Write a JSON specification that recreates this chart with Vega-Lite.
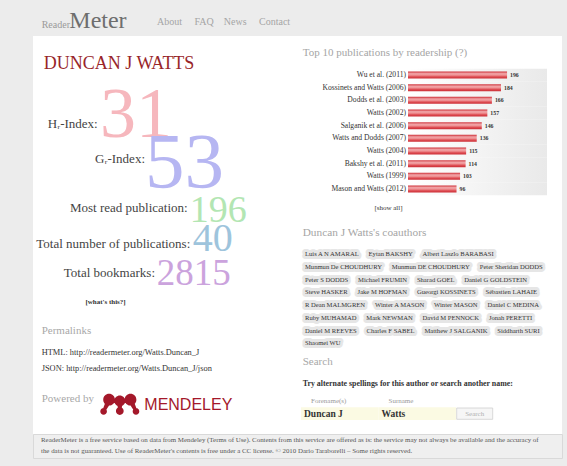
{
  "$schema": "https://vega.github.io/schema/vega-lite/v6.json",
  "background": "#ececec",
  "padding": {"left": 32, "top": 0, "right": 6, "bottom": 8},
  "spacing": 0,
  "bounds": "flush",
  "config": {"view": {"stroke": null}, "text": {"font": "Liberation Serif"}, "concat": {"spacing": 0}},
  "datasets": {
    "pubs": [
      {"pub": "Wu et al. (2011)", "readers": 196},
      {"pub": "Kossinets and Watts (2006)", "readers": 184},
      {"pub": "Dodds et al. (2003)", "readers": 166},
      {"pub": "Watts (2002)", "readers": 157},
      {"pub": "Salganik et al. (2006)", "readers": 146},
      {"pub": "Watts and Dodds (2007)", "readers": 136},
      {"pub": "Watts (2004)", "readers": 115},
      {"pub": "Bakshy et al. (2011)", "readers": 114},
      {"pub": "Watts (1999)", "readers": 103},
      {"pub": "Mason and Watts (2012)", "readers": 96}
    ],
    "metrics": [
      {"metric": "H\u1d63-Index:", "value": 31},
      {"metric": "G\u1d63-Index:", "value": 53},
      {"metric": "Most read publication:", "value": 196},
      {"metric": "Total number of publications:", "value": 40},
      {"metric": "Total bookmarks:", "value": 2815}
    ],
    "coauthors": [
      {"t": "Luis A N AMARAL\u00a0\u00a0\u00a0\u00a0\u00a0\u00a0Eytan BAKSHY\u00a0\u00a0\u00a0\u00a0\u00a0\u00a0Albert Laszlo BARABASI"},
      {"t": "Munmun De CHOUDHURY\u00a0\u00a0\u00a0\u00a0\u00a0\u00a0Munmun DE CHOUDHURY\u00a0\u00a0\u00a0\u00a0\u00a0\u00a0Peter Sheridan DODDS"},
      {"t": "Peter S DODDS\u00a0\u00a0\u00a0\u00a0\u00a0\u00a0Michael FRUMIN\u00a0\u00a0\u00a0\u00a0\u00a0\u00a0Sharad GOEL\u00a0\u00a0\u00a0\u00a0\u00a0\u00a0Daniel G GOLDSTEIN"},
      {"t": "Steve HASKER\u00a0\u00a0\u00a0\u00a0\u00a0\u00a0Jake M HOFMAN\u00a0\u00a0\u00a0\u00a0\u00a0\u00a0Gueorgi KOSSINETS\u00a0\u00a0\u00a0\u00a0\u00a0\u00a0Sébastien LAHAIE"},
      {"t": "R Dean MALMGREN\u00a0\u00a0\u00a0\u00a0\u00a0\u00a0Winter A MASON\u00a0\u00a0\u00a0\u00a0\u00a0\u00a0Winter MASON\u00a0\u00a0\u00a0\u00a0\u00a0\u00a0Daniel C MEDINA"},
      {"t": "Ruby MUHAMAD\u00a0\u00a0\u00a0\u00a0\u00a0\u00a0Mark NEWMAN\u00a0\u00a0\u00a0\u00a0\u00a0\u00a0David M PENNOCK\u00a0\u00a0\u00a0\u00a0\u00a0\u00a0Jonah PERETTI"},
      {"t": "Daniel M REEVES\u00a0\u00a0\u00a0\u00a0\u00a0\u00a0Charles F SABEL\u00a0\u00a0\u00a0\u00a0\u00a0\u00a0Matthew J SALGANIK\u00a0\u00a0\u00a0\u00a0\u00a0\u00a0Siddharth SURI"},
      {"t": "Shaomei WU"}
    ]
  },
  "vconcat": [
    {
      "width": 529, "height": 36,
      "view": {"stroke": null},
      "resolve": {"scale": {"x": "independent", "y": "independent"}},
      "layer": [
        {"data": {"values": [{"t": "Reader"}]},
         "mark": {"type": "text", "align": "left", "baseline": "alphabetic", "fontSize": 10, "color": "#9a9a9a"},
         "encoding": {"text": {"field": "t"},
           "x": {"field": "t", "type": "nominal", "scale": {"type": "point", "range": [8.7, 8.7]}, "axis": null},
           "y": {"field": "t", "type": "nominal", "scale": {"type": "point", "range": [28.3, 28.3]}, "axis": null}}},
        {"data": {"values": [{"t": "Meter"}]},
         "mark": {"type": "text", "align": "left", "baseline": "alphabetic", "fontSize": 24, "color": "#6e6e6e"},
         "encoding": {"text": {"field": "t"},
           "x": {"field": "t", "type": "nominal", "scale": {"type": "point", "range": [36.3, 36.3]}, "axis": null},
           "y": {"field": "t", "type": "nominal", "scale": {"type": "point", "range": [28.3, 28.3]}, "axis": null}}},
        {"data": {"values": [{"t": "About\u00a0\u00a0\u00a0\u00a0\u00a0FAQ\u00a0\u00a0\u00a0\u00a0News\u00a0\u00a0\u00a0\u00a0\u00a0Contact"}]},
         "mark": {"type": "text", "align": "left", "baseline": "alphabetic", "fontSize": 10, "color": "#a5a5a5"},
         "encoding": {"text": {"field": "t"},
           "x": {"field": "t", "type": "nominal", "scale": {"type": "point", "range": [124, 124]}, "axis": null},
           "y": {"field": "t", "type": "nominal", "scale": {"type": "point", "range": [25, 25]}, "axis": null}}}
      ]
    },
    {
      "width": 529, "height": 398,
      "view": {"fill": "#ffffff", "stroke": null},
      "resolve": {"scale": {"x": "independent", "y": "independent", "size": "independent", "color": "independent"}},
      "layer": [
        {"data": {"values": [{"t": "DUNCAN J WATTS"}]},
         "mark": {"type": "text", "align": "left", "baseline": "alphabetic", "fontSize": 18, "color": "#982529"},
         "encoding": {"text": {"field": "t"},
           "x": {"field": "t", "type": "nominal", "scale": {"type": "point", "range": [10.7, 10.7]}, "axis": null},
           "y": {"field": "t", "type": "nominal", "scale": {"type": "point", "range": [33, 33]}, "axis": null}}},
        {"data": {"name": "metrics"},
         "mark": {"type": "text", "align": "right", "baseline": "alphabetic", "fontSize": 13, "color": "#444444"},
         "encoding": {"text": {"field": "metric"},
           "x": {"field": "value", "type": "quantitative", "scale": {"domain": [31, 40, 53, 196, 2815], "range": [64.7, 157.3, 112, 154.7, 122], "nice": false, "zero": false}, "axis": null},
           "y": {"field": "value", "type": "quantitative", "scale": {"domain": [31, 40, 53, 196, 2815], "range": [91.7, 211.7, 127.3, 175.7, 240.7], "nice": false, "zero": false}, "axis": null}}},
        {"data": {"name": "metrics"},
         "mark": {"type": "text", "align": "left", "baseline": "alphabetic"},
         "encoding": {"text": {"field": "value", "type": "nominal"},
           "x": {"field": "value", "type": "quantitative", "scale": {"domain": [31, 40, 53, 196, 2815], "range": [67, 159.7, 112, 156.7, 123.7], "nice": false, "zero": false}, "axis": null},
           "y": {"field": "value", "type": "quantitative", "scale": {"domain": [31, 40, 53, 196, 2815], "range": [101.3, 215, 150.7, 185.7, 249], "nice": false, "zero": false}, "axis": null},
           "size": {"field": "value", "type": "quantitative", "scale": {"domain": [31, 40, 53, 196, 2815], "range": [72, 40, 79, 38, 37], "nice": false, "zero": false}, "legend": null},
           "color": {"field": "metric", "type": "nominal", "scale": {"domain": ["H\u1d63-Index:", "G\u1d63-Index:", "Most read publication:", "Total number of publications:", "Total bookmarks:"], "range": ["#f6b7bd", "#b6b6f2", "#b3e6b3", "#9ec4dc", "#cba3dd"]}, "legend": null}}},
        {"data": {"values": [{"t": "[what's this?]"}]},
         "mark": {"type": "text", "align": "center", "fontSize": 7, "fontWeight": "bold", "color": "#333333"},
         "encoding": {"text": {"field": "t"},
           "x": {"field": "t", "type": "nominal", "scale": {"type": "point", "range": [72.5, 72.5]}, "axis": null},
           "y": {"field": "t", "type": "nominal", "scale": {"type": "point", "range": [265.7, 265.7]}, "axis": null}}},
        {"data": {"values": [{"t": "Permalinks"}]},
         "mark": {"type": "text", "align": "left", "fontSize": 11, "color": "#a8a8a8"},
         "encoding": {"text": {"field": "t"},
           "x": {"field": "t", "type": "nominal", "scale": {"type": "point", "range": [8.7, 8.7]}, "axis": null},
           "y": {"field": "t", "type": "nominal", "scale": {"type": "point", "range": [295, 295]}, "axis": null}}},
        {"data": {"values": [{"t": "HTML: http://readermeter.org/Watts.Duncan_J"}, {"t": "JSON: http://readermeter.org/Watts.Duncan_J/json"}]},
         "mark": {"type": "text", "align": "left", "fontSize": 8.4, "color": "#333333"},
         "encoding": {"text": {"field": "t"},
           "x": {"field": "t", "type": "nominal", "scale": {"type": "point", "range": [8.7, 8.7]}, "axis": null},
           "y": {"field": "t", "type": "nominal", "sort": null, "scale": {"type": "point", "range": [316.3, 331.7], "padding": 0}, "axis": null}}},
        {"data": {"values": [{"t": "Powered by"}]},
         "mark": {"type": "text", "align": "left", "fontSize": 11, "color": "#a8a8a8"},
         "encoding": {"text": {"field": "t"},
           "x": {"field": "t", "type": "nominal", "scale": {"type": "point", "range": [8.7, 8.7]}, "axis": null},
           "y": {"field": "t", "type": "nominal", "scale": {"type": "point", "range": [363, 363]}, "axis": null}}},
        {"data": {"values": [{"brand": "Mendeley"}]},
         "mark": {"type": "point", "filled": true, "opacity": 1, "size": 1521, "color": "#a4182a", "strokeWidth": 0,
           "shape": "M -0.85 -0.22 A 0.3 0.3 0 1 0 -0.25 -0.22 A 0.3 0.3 0 1 0 -0.85 -0.22 Z M 0.25 -0.22 A 0.3 0.3 0 1 0 0.85 -0.22 A 0.3 0.3 0 1 0 0.25 -0.22 Z M -0.28 -0.16 A 0.28 0.28 0 1 0 0.28 -0.16 A 0.28 0.28 0 1 0 -0.28 -0.16 Z M -1 0.38 A 0.17 0.17 0 1 0 -0.66 0.38 A 0.17 0.17 0 1 0 -1 0.38 Z M -0.2 0.36 A 0.2 0.2 0 1 0 0.2 0.36 A 0.2 0.2 0 1 0 -0.2 0.36 Z M 0.66 0.38 A 0.17 0.17 0 1 0 1 0.38 A 0.17 0.17 0 1 0 0.66 0.38 Z M -0.75 -0.05 L -0.9 0.35 L -0.76 0.4 L -0.5 0 Z M 0.75 -0.05 L 0.5 0 L 0.76 0.4 L 0.9 0.35 Z M -0.12 0 L -0.1 0.3 L 0.1 0.3 L 0.12 0 Z"},
         "encoding": {
           "x": {"field": "brand", "type": "nominal", "scale": {"type": "point", "range": [86.8, 86.8]}, "axis": null},
           "y": {"field": "brand", "type": "nominal", "scale": {"type": "point", "range": [368, 368]}, "axis": null}}},
        {"data": {"values": [{"t": "MENDELEY"}]},
         "mark": {"type": "text", "align": "left", "fontSize": 16, "font": "Liberation Sans", "color": "#a4182a"},
         "encoding": {"text": {"field": "t"},
           "x": {"field": "t", "type": "nominal", "scale": {"type": "point", "range": [111.3, 111.3]}, "axis": null},
           "y": {"field": "t", "type": "nominal", "scale": {"type": "point", "range": [369, 369]}, "axis": null}}},
        {"data": {"values": [{"t": "Top 10 publications by readership (?)"}]},
         "mark": {"type": "text", "align": "left", "fontSize": 11, "color": "#a5a5a5"},
         "encoding": {"text": {"field": "t"},
           "x": {"field": "t", "type": "nominal", "scale": {"type": "point", "range": [269.7, 269.7]}, "axis": null},
           "y": {"field": "t", "type": "nominal", "scale": {"type": "point", "range": [16.7, 16.7]}, "axis": null}}},
        {"data": {"name": "pubs"},
         "mark": {"type": "bar", "color": {"gradient": "linear", "x1": 0, "y1": 0, "x2": 1, "y2": 0, "stops": [{"offset": 0, "color": "#ffffff"}, {"offset": 1, "color": "#e9e9e9"}]}},
         "encoding": {
           "y": {"field": "pub", "type": "nominal", "sort": null, "scale": {"type": "band", "range": [32.7, 159.3], "paddingInner": 0, "paddingOuter": 0}, "axis": null},
           "x": {"datum": 275, "type": "quantitative", "scale": {"domain": [0, 275], "range": [375, 514], "nice": false}, "axis": null}}},
        {"data": {"name": "pubs"},
         "encoding": {
           "y": {"field": "pub", "type": "nominal", "sort": null, "scale": {"type": "band", "range": [32.7, 159.3], "paddingInner": 0.45, "paddingOuter": 0.225}, "axis": null}},
         "layer": [
           {"mark": {"type": "bar", "color": {"gradient": "linear", "x1": 0, "y1": 0, "x2": 0, "y2": 1, "stops": [{"offset": 0, "color": "#cf3139"}, {"offset": 0.3, "color": "#f0a3a6"}, {"offset": 0.5, "color": "#ef9597"}, {"offset": 0.75, "color": "#de4d53"}, {"offset": 1, "color": "#cb2d35"}]}},
            "encoding": {"x": {"field": "readers", "type": "quantitative", "scale": {"domain": [0, 275], "range": [375, 514], "nice": false}, "axis": null}}},
           {"mark": {"type": "text", "align": "left", "dx": 3, "fontSize": 5.8, "fontWeight": "bold", "color": "#333333"},
            "encoding": {"x": {"field": "readers", "type": "quantitative", "axis": null}, "text": {"field": "readers", "type": "nominal"}}},
           {"mark": {"type": "text", "align": "right", "dx": -2, "fontSize": 7.6, "color": "#333333"},
            "encoding": {"x": {"datum": 0, "type": "quantitative", "axis": null}, "text": {"field": "pub"}}}
         ]},
        {"data": {"values": [{"t": "[show all]"}]},
         "mark": {"type": "text", "align": "center", "fontSize": 7, "color": "#333333"},
         "encoding": {"text": {"field": "t"},
           "x": {"field": "t", "type": "nominal", "scale": {"type": "point", "range": [355.5, 355.5]}, "axis": null},
           "y": {"field": "t", "type": "nominal", "scale": {"type": "point", "range": [172.3, 172.3]}, "axis": null}}},
        {"data": {"values": [{"t": "Duncan J Watts's coauthors"}]},
         "mark": {"type": "text", "align": "left", "fontSize": 11.3, "color": "#a5a5a5"},
         "encoding": {"text": {"field": "t"},
           "x": {"field": "t", "type": "nominal", "scale": {"type": "point", "range": [269.7, 269.7]}, "axis": null},
           "y": {"field": "t", "type": "nominal", "scale": {"type": "point", "range": [197.3, 197.3]}, "axis": null}}},
        {"data": {"name": "coauthors"},
         "mark": {"type": "text", "align": "left", "fontSize": 6.6, "color": "#e6e6e6", "stroke": "#e6e6e6", "strokeWidth": 6, "strokeJoin": "round"},
         "encoding": {"text": {"field": "t"},
           "x": {"field": "t", "type": "nominal", "scale": {"type": "point", "range": [272, 272]}, "axis": null},
           "y": {"field": "t", "type": "nominal", "sort": null, "scale": {"type": "point", "range": [218.3, 307.3], "padding": 0}, "axis": null}}},
        {"data": {"name": "coauthors"},
         "mark": {"type": "text", "align": "left", "fontSize": 6.6, "color": "#333333"},
         "encoding": {"text": {"field": "t"},
           "x": {"field": "t", "type": "nominal", "scale": {"type": "point", "range": [272, 272]}, "axis": null},
           "y": {"field": "t", "type": "nominal", "sort": null, "scale": {"type": "point", "range": [218.3, 307.3], "padding": 0}, "axis": null}}},
        {"data": {"values": [{"t": "Search"}]},
         "mark": {"type": "text", "align": "left", "fontSize": 11, "color": "#a8a8a8"},
         "encoding": {"text": {"field": "t"},
           "x": {"field": "t", "type": "nominal", "scale": {"type": "point", "range": [269.7, 269.7]}, "axis": null},
           "y": {"field": "t", "type": "nominal", "scale": {"type": "point", "range": [325.7, 325.7]}, "axis": null}}},
        {"data": {"values": [{"t": "Try alternate spellings for this author or search another name:"}]},
         "mark": {"type": "text", "align": "left", "fontSize": 7.9, "fontWeight": "bold", "color": "#333333"},
         "encoding": {"text": {"field": "t"},
           "x": {"field": "t", "type": "nominal", "scale": {"type": "point", "range": [269.7, 269.7]}, "axis": null},
           "y": {"field": "t", "type": "nominal", "scale": {"type": "point", "range": [348, 348]}, "axis": null}}},
        {"data": {"values": [{"box": "Forename(s)", "entered": "Duncan J"}, {"box": "Surname", "entered": "Watts"}]},
         "encoding": {
           "x": {"field": "box", "type": "nominal", "sort": null, "scale": {"type": "band", "range": [268, 423], "paddingInner": 0, "paddingOuter": 0}, "axis": null}},
         "layer": [
           {"mark": {"type": "rect", "color": "#fbfae3"},
            "encoding": {"y": {"datum": "input", "type": "nominal", "scale": {"type": "band", "domain": ["label", "input"], "range": [358.6, 384], "paddingInner": 0, "paddingOuter": 0}, "axis": null}}},
           {"mark": {"type": "text", "align": "left", "dx": 10, "fontSize": 7, "color": "#9a9a9a"},
            "encoding": {"x": {"field": "box", "type": "nominal", "sort": null, "bandPosition": 0, "axis": null}, "y": {"datum": "label", "type": "nominal", "axis": null}, "text": {"field": "box"}}},
           {"mark": {"type": "text", "align": "left", "dx": 3, "fontSize": 9.5, "fontWeight": "bold", "color": "#333333"},
            "encoding": {"x": {"field": "box", "type": "nominal", "sort": null, "bandPosition": 0, "axis": null}, "y": {"datum": "input", "type": "nominal", "axis": null}, "text": {"field": "entered"}}}
         ]},
        {"data": {"values": [{"action": "Search"}]},
         "encoding": {
           "x": {"field": "action", "type": "nominal", "scale": {"type": "band", "range": [423.7, 459.7], "paddingInner": 0, "paddingOuter": 0}, "axis": null},
           "y": {"field": "action", "type": "nominal", "scale": {"type": "band", "range": [372, 383.3], "paddingInner": 0, "paddingOuter": 0}, "axis": null}},
         "layer": [
           {"mark": {"type": "rect", "fill": "#f6f6f6", "stroke": "#cfcfcf", "strokeWidth": 0.8}},
           {"mark": {"type": "text", "fontSize": 7, "color": "#b0b0b0"}, "encoding": {"text": {"field": "action"}}}
         ]}
      ]
    },
    {
      "width": 529, "height": 24,
      "view": {"fill": "#efefef", "stroke": "#d9d9d9"},
      "data": {"values": [
        {"t": "ReaderMeter is a free service based on data from Mendeley (Terms of Use). Contents from this service are offered as is: the service may not always be available and the accuracy of"},
        {"t": "the data is not guaranteed. Use of ReaderMeter's contents is free under a CC license. © 2010 Dario Taraborelli – Some rights reserved."}
      ]},
      "mark": {"type": "text", "align": "left", "fontSize": 6.9, "color": "#555555"},
      "encoding": {"text": {"field": "t"},
        "x": {"field": "t", "type": "nominal", "scale": {"type": "point", "range": [8, 8]}, "axis": null},
        "y": {"field": "t", "type": "nominal", "sort": null, "scale": {"type": "point", "range": [6.3, 16.5], "padding": 0}, "axis": null}}
    }
  ]
}
